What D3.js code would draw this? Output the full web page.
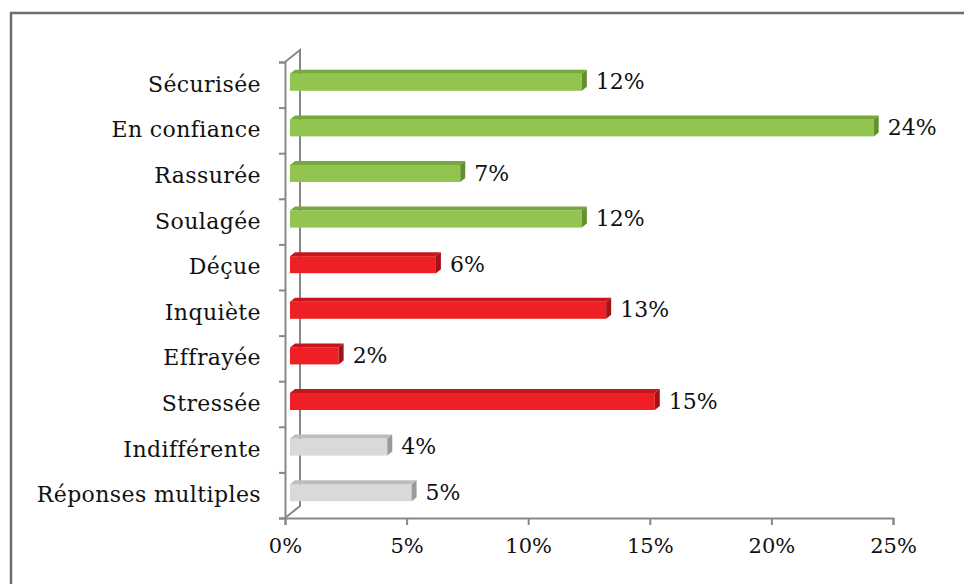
<!DOCTYPE html>
<html>
<head>
<meta charset="utf-8">
<script src="https://cdn.jsdelivr.net/npm/d3@7"></script>
<style>
  body { margin: 0; background: #fff; }
  svg { display: block; }
</style>
</head>
<body>
<div id="chart"></div>
<script>
// Data
var categories = ["Sécurisée", "En confiance", "Rassurée", "Soulagée", "Déçue",
                  "Inquiète", "Effrayée", "Stressée", "Indifférente", "Réponses multiples"];
var values = [12, 24, 7, 12, 6, 13, 2, 15, 4, 5];
var groups = ["pos", "pos", "pos", "pos", "neg", "neg", "neg", "neg", "neu", "neu"];
var xTicks = [0, 5, 10, 15, 20, 25];

// Colours per group: front, top, side
var palette = {
    pos: {front: "#92c550", top: "#77a83a", side: "#62902e"},
    neg: {front: "#ee1f25", top: "#c4161b", side: "#a51216"},
    neu: {front: "#d9d9d9", top: "#bdbdbd", side: "#9a9a9a"}
};

var W = 964, H = 584;
var font = "'DejaVu Serif', 'Liberation Serif', serif";
var axisColor = "#878787";

var svg = d3.select("#chart").append("svg")
            .attr("width", W)
            .attr("height", H);

// Outer frame (runs off the right / bottom edge)
svg.append("rect")
   .attr("x", 11).attr("y", 13)
   .attr("width", 980).attr("height", 600)
   .attr("fill", "none")
   .attr("stroke", "#6e6e6e")
   .attr("stroke-width", 2.5);

// Scales
var x = d3.scaleLinear().domain([0, 25]).range([285, 893]);
var y = d3.scaleBand().domain(categories).range([62, 518]);

var dx = 15, dy = 12;   // wall depth offset
var bx = 5, by = 4;     // bar depth offset

// Back wall line + corner diagonals
var wall = svg.append("g").attr("stroke", axisColor).attr("stroke-width", 2).attr("fill", "none");
wall.append("path")
    .attr("d", "M" + x(0) + "," + y.range()[0] + "L" + (x(0) + dx) + "," + (y.range()[0] - dy) +
               "L" + (x(0) + dx) + "," + (y.range()[1] - dy) + "L" + x(0) + "," + y.range()[1]);

// Front vertical axis with ticks between categories
var leftAxis = d3.axisLeft(d3.scaleLinear().domain([0, categories.length]).range([518, 62]))
                 .ticks(categories.length)
                 .tickSize(6)
                 .tickFormat("");
var gl = svg.append("g").attr("transform", "translate(" + x(0) + ",0)").call(leftAxis);
gl.select(".domain").attr("stroke", axisColor).attr("stroke-width", 2);
gl.selectAll(".tick line").attr("stroke", axisColor).attr("stroke-width", 2);

// Bottom axis
var bottomAxis = d3.axisBottom(x)
                   .tickValues(xTicks)
                   .tickSize(7)
                   .tickPadding(13)
                   .tickFormat(d => d + "%");
var gb = svg.append("g").attr("transform", "translate(0," + y.range()[1] + ")").call(bottomAxis);
gb.select(".domain").attr("stroke", axisColor).attr("stroke-width", 2);
gb.selectAll(".tick line").attr("stroke", axisColor).attr("stroke-width", 2);
gb.selectAll("text")
  .attr("font-family", font)
  .attr("font-size", 21)
  .attr("fill", "#111");

// Category labels
svg.append("g").selectAll("text")
   .data(categories)
   .enter().append("text")
   .attr("x", 261)
   .attr("y", d => y(d) + y.bandwidth() / 2 + 1)
   .attr("text-anchor", "end")
   .attr("dominant-baseline", "middle")
   .attr("font-family", font)
   .attr("font-size", 22)
   .attr("letter-spacing", 0.4)
   .attr("fill", "#111")
   .text(d => d);

// 3D bars
var bars = svg.append("g").selectAll("g")
              .data(categories)
              .enter().append("g");

function barGeom(d, i) {
    var c = y(d) + y.bandwidth() / 2;
    return {x0: x(0) + 5, x1: x(values[i]) + 5, y0: c - 11, y1: c + 6};
}

bars.append("rect")
    .attr("x", (d, i) => barGeom(d, i).x0)
    .attr("y", (d, i) => barGeom(d, i).y0)
    .attr("width", (d, i) => barGeom(d, i).x1 - barGeom(d, i).x0)
    .attr("height", (d, i) => barGeom(d, i).y1 - barGeom(d, i).y0)
    .attr("fill", (d, i) => palette[groups[i]].front);

bars.append("path")
    .attr("d", function(d, i) {
        var g = barGeom(d, i);
        return "M" + g.x0 + "," + g.y0 + "L" + (g.x0 + bx) + "," + (g.y0 - by) +
               "L" + (g.x1 + bx) + "," + (g.y0 - by) + "L" + g.x1 + "," + g.y0 + "Z";
    })
    .attr("fill", (d, i) => palette[groups[i]].top);

bars.append("path")
    .attr("d", function(d, i) {
        var g = barGeom(d, i);
        return "M" + g.x1 + "," + g.y0 + "L" + (g.x1 + bx) + "," + (g.y0 - by) +
               "L" + (g.x1 + bx) + "," + (g.y1 - by) + "L" + g.x1 + "," + g.y1 + "Z";
    })
    .attr("fill", (d, i) => palette[groups[i]].side);

// Value labels
bars.append("text")
    .attr("x", (d, i) => barGeom(d, i).x1 + bx + 9)
    .attr("y", (d, i) => (barGeom(d, i).y0 + barGeom(d, i).y1) / 2 + 1)
    .attr("dominant-baseline", "middle")
    .attr("font-family", font)
    .attr("font-size", 22)
    .attr("fill", "#111")
    .text((d, i) => values[i] + "%");
</script>
</body>
</html>
